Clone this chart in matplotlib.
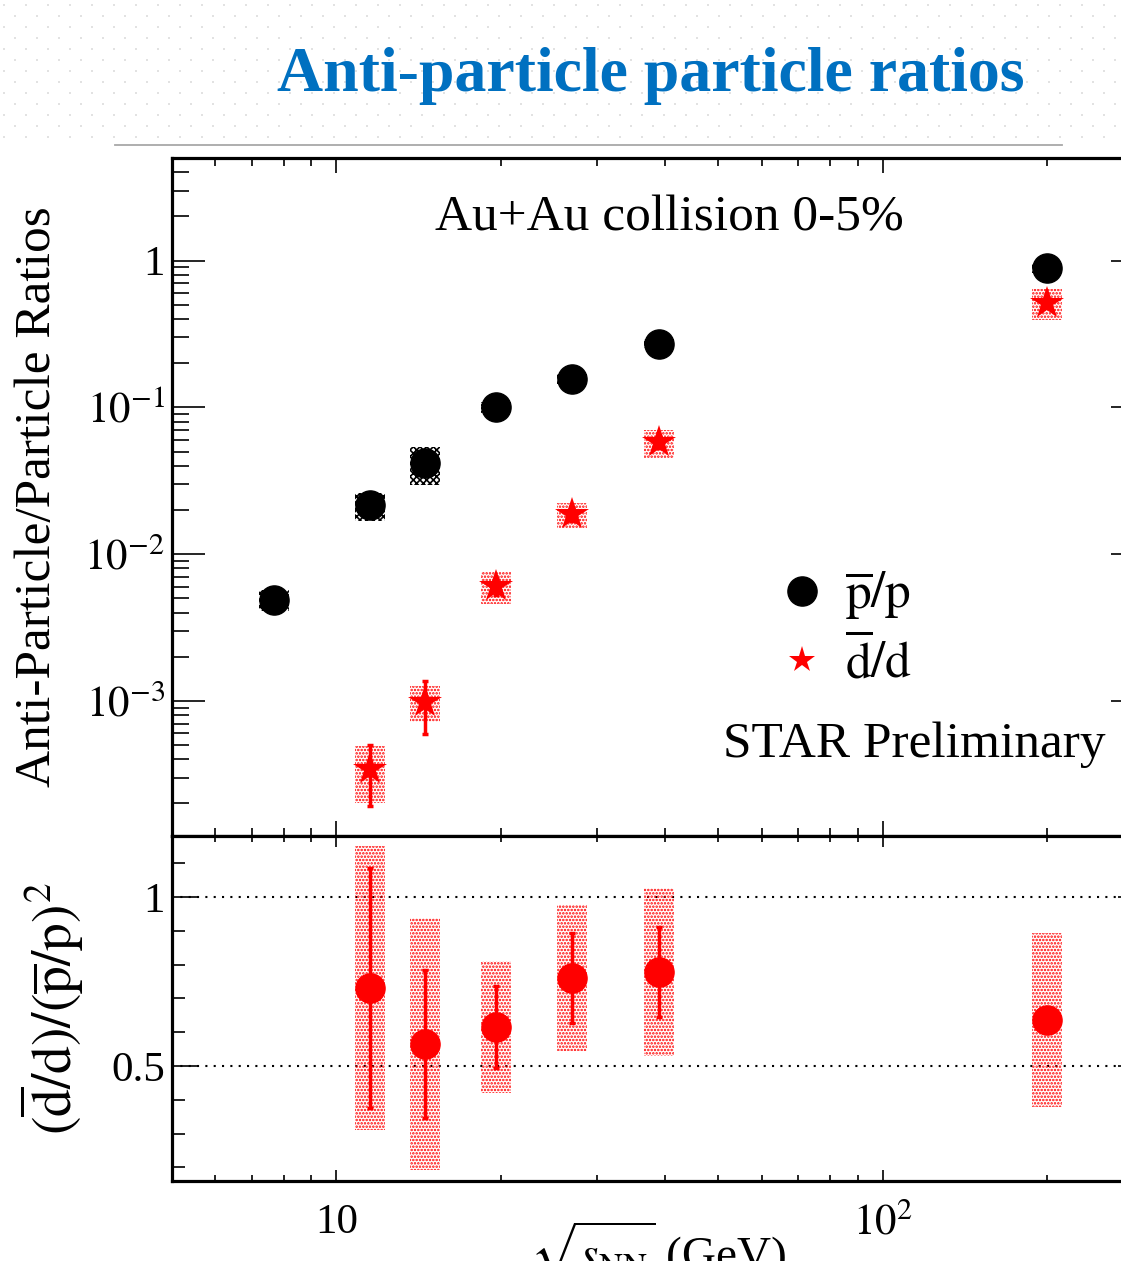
import numpy as np
import matplotlib
matplotlib.use('Agg')
import matplotlib.pyplot as plt
from matplotlib.patches import Rectangle
from matplotlib.lines import Line2D
from matplotlib.ticker import FuncFormatter, NullFormatter, MultipleLocator, LogLocator

plt.rcParams['font.family'] = ['Liberation Serif', 'DejaVu Serif']
plt.rcParams['mathtext.fontset'] = 'stix'
plt.rcParams['hatch.linewidth'] = 1.2

# collision energies (GeV)
energy = [7.7, 11.5, 14.5, 19.6, 27, 39, 200]
pbar_p = [0.0049, 0.0215, 0.0416, 0.100, 0.157, 0.272, 0.896]
pbar_p_sys = [0.0008, 0.0046, 0.012, 0.008, 0.012, 0.02, 0.07]

d_energy = [11.5, 14.5, 19.6, 27, 39, 200]
dbar_d = [3.46e-4, 9.85e-4, 6.05e-3, 0.0187, 0.0578, 0.518]
dbar_d_stat = [1.55e-4, 3.9e-4, 0.0008, 0.002, 0.005, 0.03]
dbar_d_sys = [1.45e-4, 2.7e-4, 1.5e-3, 3.7e-3, 0.0125, 0.125]

# (dbar/d)/(pbar/p)^2
ratio = [0.731, 0.565, 0.615, 0.760, 0.778, 0.636]
ratio_stat = [0.355, 0.218, 0.122, 0.132, 0.133, 0.02]
ratio_sys = [0.42, 0.373, 0.196, 0.215, 0.248, 0.256]

box_hw = 0.0275  # half width of sys boxes in decades

W, H = 1121, 1261
fig = plt.figure(figsize=(W / 100, H / 100), dpi=100)
fig.patch.set_facecolor('white')

# slide background dots
bg = fig.add_axes([0, 1 - 140 / H, 1, 140 / H], zorder=-5)
bg.set_xlim(0, W)
bg.set_ylim(140, 0)
bg.axis('off')
for i, yy in enumerate(np.arange(5, 140, 11)):
    xs = np.arange(4 + 11 * (i % 2), W, 22)
    bg.scatter(xs, np.full(len(xs), yy), s=3.5, marker='s', color='#E2E2E2', linewidths=0)

fig.text(651 / W, 1 - 76 / H, 'Anti-particle particle ratios', ha='center', va='center',
         fontsize=46, fontweight='bold', color='#0070C0')
fig.add_artist(Line2D([115 / W, 1062 / W], [1 - 145 / H] * 2, transform=fig.transFigure,
                      color='#A8A8A8', lw=1.3))

left = 172 / W
width = (1143.5 - 172) / W
ax1 = fig.add_axes([left, 1 - 836 / H, width, (836 - 158) / H])
ax2 = fig.add_axes([left, 1 - 1181 / H, width, (1181 - 836) / H], sharex=ax1)

for ax in (ax1, ax2):
    ax.set_xscale('log')
    ax.set_xlim(5, 300)
    for s in ax.spines.values():
        s.set_linewidth(2.3)

ax1.set_yscale('log')
ax1.set_ylim(1.2e-4, 5)
ax2.set_ylim(0.16, 1.18)


def box(ax, x, y, e, color, hatch):
    x0 = x * 10 ** (-box_hw)
    x1 = x * 10 ** box_hw
    ax.add_patch(Rectangle((x0, y - e), x1 - x0, 2 * e, fill=False, hatch=hatch,
                           edgecolor=color, linewidth=0, zorder=2))


# top panel
for x, y, e in zip(energy, pbar_p, pbar_p_sys):
    box(ax1, x, y, e, 'black', 'xxxxx')
for x, y, e in zip(d_energy, dbar_d, dbar_d_sys):
    box(ax1, x, y, e, 'red', '.....')
ax1.errorbar(d_energy, dbar_d, yerr=dbar_d_stat, fmt='none', ecolor='red', elinewidth=2.5,
             capsize=2.5, capthick=2.5, zorder=3)
ax1.plot(energy, pbar_p, 'o', color='black', ms=21, zorder=5)
ax1.plot(d_energy, dbar_d, '*', color='red', ms=25, mew=0, zorder=5)

ax1.text(0.5116, 0.9115, 'Au+Au collision 0-5%', transform=ax1.transAxes, ha='center',
         va='center', fontsize=37)
ax1.text(0.764, 0.134, 'STAR Preliminary', transform=ax1.transAxes, ha='center',
         va='center', fontsize=37)

handles = [Line2D([], [], marker='o', color='black', ls='none', ms=21),
           Line2D([], [], marker='*', color='red', ls='none', ms=20, mew=0)]
labels = [r'$\overline{\mathrm{p}}/\mathrm{p}$', r'$\overline{\mathrm{d}}/\mathrm{d}$']
ax1.legend(handles, labels, loc='center left', bbox_to_anchor=(0.6217, 0.3050),
           frameon=False, fontsize=37, handlelength=1.0, handletextpad=0.35,
           labelspacing=0.25, borderpad=0, borderaxespad=0)

ax1.set_ylabel('Anti-Particle/Particle Ratios', fontsize=37, va='center')
ax1.yaxis.set_label_coords((38 - 172) / 971.5, 0.5)

ax1.yaxis.set_major_locator(LogLocator(base=10, numticks=20))
ax1.yaxis.set_minor_locator(LogLocator(base=10, subs=np.arange(2, 10), numticks=20))
ax1.yaxis.set_major_formatter(FuncFormatter(
    lambda v, p: '1' if abs(v - 1) < 1e-9 else r'$10^{%d}$' % round(np.log10(v))))
ax1.yaxis.set_minor_formatter(NullFormatter())
ax1.tick_params(axis='y', which='major', direction='in', length=24, width=1.2, right=True,
                labelsize=31, pad=5)
ax1.tick_params(axis='y', which='minor', direction='in', length=12, width=1.2, right=True)
ax1.tick_params(axis='x', which='major', direction='in', length=11, width=1.2, top=True,
                labelbottom=False)
ax1.tick_params(axis='x', which='minor', direction='in', length=5.5, width=1.2, top=True,
                labelbottom=False)

# bottom panel
ax2.axhline(1.0, ls=(0, (1, 3)), color='black', lw=1.5, zorder=1)
ax2.axhline(0.5, ls=(0, (1, 3)), color='black', lw=1.5, zorder=1)
for x, y, e in zip(d_energy, ratio, ratio_sys):
    box(ax2, x, y, e, 'red', '.....')
ax2.errorbar(d_energy, ratio, yerr=ratio_stat, fmt='none', ecolor='red', elinewidth=2.5,
             capsize=2.5, capthick=2.5, zorder=3)
ax2.plot(d_energy, ratio, 'o', color='red', ms=21, zorder=5)

ax2.set_ylabel(r'$(\overline{\mathrm{d}}/\mathrm{d})/(\overline{\mathrm{p}}/\mathrm{p})^{2}$',
               fontsize=40, va='center')
ax2.yaxis.set_label_coords((52 - 172) / 971.5, 0.5)
ax2.set_xlabel(r'$\sqrt{s_{\mathrm{NN}}}$ (GeV)', fontsize=34, labelpad=-17)

ax2.yaxis.set_major_locator(MultipleLocator(0.5))
ax2.yaxis.set_minor_locator(MultipleLocator(0.1))
ax2.yaxis.set_major_formatter(FuncFormatter(lambda v, p: '%g' % v))
ax2.xaxis.set_major_locator(LogLocator(base=10, numticks=10))
ax2.xaxis.set_minor_locator(LogLocator(base=10, subs=np.arange(2, 10), numticks=20))
ax2.xaxis.set_major_formatter(FuncFormatter(
    lambda v, p: '10' if abs(v - 10) < 1e-6 else r'$10^{%d}$' % round(np.log10(v))))
ax2.xaxis.set_minor_formatter(NullFormatter())
ax2.tick_params(axis='y', which='major', direction='in', length=19, width=1.2, right=True,
                labelsize=31, pad=5)
ax2.tick_params(axis='y', which='minor', direction='in', length=9.5, width=1.2, right=True)
ax2.tick_params(axis='x', which='major', direction='in', length=8, width=1.2, top=True,
                labelsize=31, pad=16)
ax2.tick_params(axis='x', which='minor', direction='in', length=4.5, width=1.2, top=True)

fig.savefig('out.png', dpi=100)
